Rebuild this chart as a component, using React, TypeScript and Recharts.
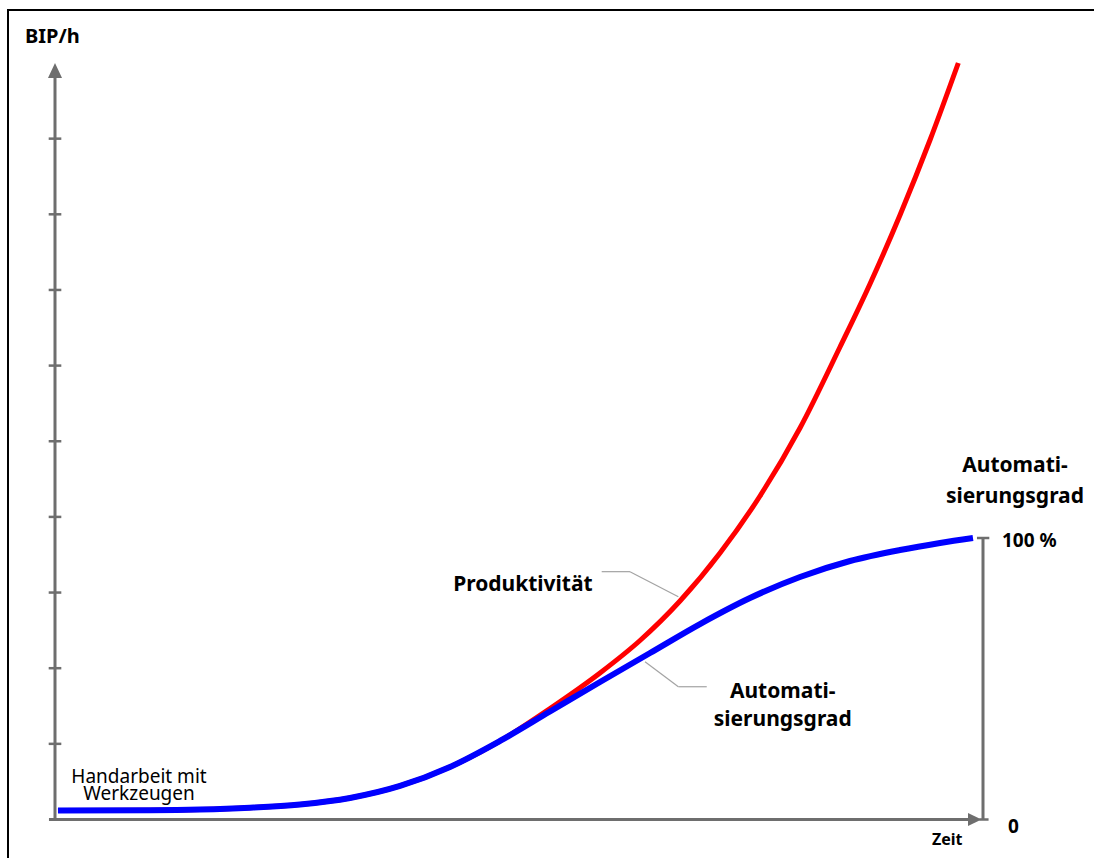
import React from "react";
import { LineChart, Line, XAxis, YAxis, ReferenceLine, ReferenceDot } from "recharts";

// Zeit (0–100) and values for Produktivität (BIP/h)
const prodTime = [0.32, 10.24, 15.63, 21.01, 26.4, 31.79, 37.18, 42.56, 47.95, 53.34, 58.73, 63.04, 67.35, 71.66, 75.97, 80.28, 84.59, 87.82, 91.06, 94.29, 97.34];
const productivity = [0.119, 0.122, 0.131, 0.155, 0.198, 0.284, 0.443, 0.694, 1.038, 1.467, 1.937, 2.366, 2.888, 3.523, 4.276, 5.175, 6.246, 7.079, 7.991, 8.982, 10.0];

// Zeit and values for Automatisierungsgrad
const autoTime = [0.32, 10.24, 15.63, 21.01, 26.4, 31.79, 37.18, 42.56, 47.95, 53.34, 58.73, 64.12, 69.5, 74.89, 80.28, 85.67, 91.06, 95.37, 98.92];
const automation = [0.119, 0.122, 0.131, 0.155, 0.198, 0.284, 0.443, 0.694, 1.038, 1.428, 1.818, 2.201, 2.584, 2.928, 3.206, 3.417, 3.562, 3.655, 3.721];

const yTicks = [1, 2, 3, 4, 5, 6, 7, 8, 9];
const xDomain = [0, 100];
const yDomain = [0, 10];
const autoMax = automation[automation.length - 1];

// leader lines
const prodLeader = [
  { x: 58.91, y: 3.276 },
  { x: 61.96, y: 3.276 },
  { x: 67.17, y: 2.945 },
];
const autoLeader = [
  { x: 63.58, y: 2.086 },
  { x: 67.17, y: 1.755 },
  { x: 70.23, y: 1.755 },
];

const prodData = prodTime.map((t, i) => ({ t, v: productivity[i] }));
const autoData = autoTime.map((t, i) => ({ t, v: automation[i] }));

const AXIS = "#6e6e6e";
const LEADER = "#a3a3a3";
const FONT = "'Noto Sans', 'Open Sans', sans-serif";

type TxtOpts = {
  dx: number;
  dy: number;
  size: number;
  bold?: boolean;
  anchor?: "start" | "middle" | "end";
  lh?: number;
};

const textShape = (lines: string[], o: TxtOpts) => (props: any) => {
  const { cx, cy } = props;
  const x = cx + o.dx;
  return (
    <text
      x={x}
      y={cy + o.dy}
      fontFamily={FONT}
      fontSize={o.size}
      fontWeight={o.bold ? 700 : 400}
      textAnchor={o.anchor || "start"}
      fill="#000"
    >
      {lines.map((l, i) => (
        <tspan key={i} x={x} dy={i === 0 ? 0 : o.lh || o.size * 1.2}>
          {l}
        </tspan>
      ))}
    </text>
  );
};

const upArrow = (props: any) => {
  const { cx, cy } = props;
  return <polygon points={`${cx},${cy} ${cx - 7},${cy + 15} ${cx + 7},${cy + 15}`} fill={AXIS} />;
};
const rightArrow = (props: any) => {
  const { cx, cy } = props;
  return <polygon points={`${cx - 1.5},${cy} ${cx - 15},${cy - 6.5} ${cx - 15},${cy + 6.5}`} fill={AXIS} />;
};

export default function App() {
  return (
    <>
      <style>{`html,body{margin:0;padding:0;overflow:hidden;background:#fff}`}</style>
      <div
        style={{
          position: "absolute",
          left: 7,
          top: 9,
          width: 1110,
          height: 870,
          borderTop: "2px solid #000",
          borderLeft: "2px solid #000",
          overflow: "hidden",
          background: "#fff",
        }}
      >
        <LineChart width={1080} height={838} margin={{ top: 52, right: 106, bottom: 29.5, left: 46 }}>
          <XAxis type="number" dataKey="t" domain={xDomain} hide />
          <YAxis type="number" domain={yDomain} hide />

          {/* axes */}
          <ReferenceLine segment={[{ x: 0, y: 0 }, { x: 0, y: 9.85 }]} stroke={AXIS} strokeWidth={3} ifOverflow="visible" />
          <ReferenceLine segment={[{ x: -0.65, y: 0 }, { x: 98.8, y: 0 }]} stroke={AXIS} strokeWidth={3} ifOverflow="visible" />
          <ReferenceLine segment={[{ x: 100, y: 0 }, { x: 100, y: autoMax }]} stroke={AXIS} strokeWidth={3} ifOverflow="visible" />
          <ReferenceLine segment={[{ x: 99.35, y: autoMax }, { x: 100.68, y: autoMax }]} stroke={AXIS} strokeWidth={2.5} ifOverflow="visible" />
          <ReferenceLine segment={[{ x: 99.6, y: 0 }, { x: 100.6, y: 0 }]} stroke={AXIS} strokeWidth={2.5} ifOverflow="visible" />
          {yTicks.map((v) => (
            <ReferenceLine
              key={v}
              segment={[{ x: -0.68, y: v }, { x: 0.68, y: v }]}
              stroke={AXIS}
              strokeWidth={2.5}
              ifOverflow="visible"
            />
          ))}
          <ReferenceDot x={0} y={10} r={0} ifOverflow="visible" shape={upArrow} />
          <ReferenceDot x={100} y={0} r={0} ifOverflow="visible" shape={rightArrow} />

          {/* leader lines */}
          <ReferenceLine segment={[prodLeader[0], prodLeader[1]]} stroke={LEADER} strokeWidth={1.2} ifOverflow="visible" />
          <ReferenceLine segment={[prodLeader[1], prodLeader[2]]} stroke={LEADER} strokeWidth={1.2} ifOverflow="visible" />
          <ReferenceLine segment={[autoLeader[0], autoLeader[1]]} stroke={LEADER} strokeWidth={1.2} ifOverflow="visible" />
          <ReferenceLine segment={[autoLeader[1], autoLeader[2]]} stroke={LEADER} strokeWidth={1.2} ifOverflow="visible" />

          {/* series */}
          <Line data={prodData} dataKey="v" type="monotone" stroke="#ff0000" strokeWidth={5} dot={false} isAnimationActive={false} />
          <Line data={autoData} dataKey="v" type="monotone" stroke="#0000ff" strokeWidth={6} dot={false} isAnimationActive={false} />

          {/* texts */}
          <ReferenceDot x={0} y={10} r={0} ifOverflow="visible" shape={textShape(["BIP/h"], { dx: -30, dy: -20, size: 20, bold: true })} />
          <ReferenceDot
            x={0}
            y={0}
            r={0}
            ifOverflow="visible"
            shape={textShape(["Handarbeit mit", "Werkzeugen"], { dx: 84, dy: -37, size: 19, anchor: "middle", lh: 17 })}
          />
          <ReferenceDot
            x={prodLeader[0].x}
            y={prodLeader[0].y}
            r={0}
            ifOverflow="visible"
            shape={textShape(["Produktivität"], { dx: -9, dy: 19, size: 21, bold: true, anchor: "end" })}
          />
          <ReferenceDot
            x={autoLeader[2].x}
            y={autoLeader[2].y}
            r={0}
            ifOverflow="visible"
            shape={textShape(["Automati-", "sierungsgrad"], { dx: 76, dy: 11, size: 21, bold: true, anchor: "middle", lh: 28 })}
          />
          <ReferenceDot
            x={100}
            y={autoMax}
            r={0}
            ifOverflow="visible"
            shape={textShape(["Automati-", "sierungsgrad"], { dx: 32, dy: -66, size: 21, bold: true, anchor: "middle", lh: 30.5 })}
          />
          <ReferenceDot x={100} y={autoMax} r={0} ifOverflow="visible" shape={textShape(["100 %"], { dx: 19, dy: 9, size: 19, bold: true })} />
          <ReferenceDot x={100} y={0} r={0} ifOverflow="visible" shape={textShape(["0"], { dx: 25, dy: 13.5, size: 19, bold: true })} />
          <ReferenceDot x={100} y={0} r={0} ifOverflow="visible" shape={textShape(["Zeit"], { dx: -51, dy: 25.5, size: 16, bold: true })} />
        </LineChart>
      </div>
    </>
  );
}
